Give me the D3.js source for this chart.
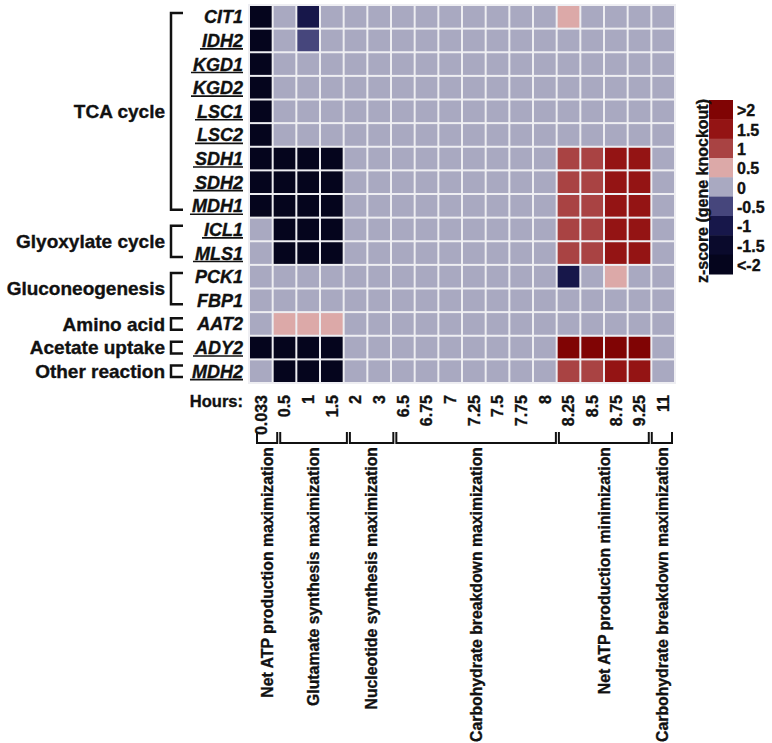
<!DOCTYPE html>
<html><head><meta charset="utf-8">
<script src="https://cdnjs.cloudflare.com/ajax/libs/d3/7.8.5/d3.min.js"></script>
<style>
html,body{margin:0;padding:0;background:#fff;}
svg{display:block;font-family:"Liberation Sans",Arial,sans-serif;}
svg text{stroke:#111;stroke-width:0.35px;}
</style></head>
<body>
<svg id="chart" width="772" height="743"></svg>
<script>
const hours = ["0.033","0.5","1","1.5","2","3","6.5","6.75","7","7.25","7.5","7.75","8","8.25","8.5","8.75","9.25","11"];
const genes = ["CIT1","IDH2","KGD1","KGD2","LSC1","LSC2","SDH1","SDH2","MDH1","ICL1","MLS1","PCK1","FBP1","AAT2","ADY2","MDH2"];
const underlined = ["IDH2","KGD1","KGD2","LSC1","LSC2","SDH1","SDH2","MDH1","ICL1","MLS1","ADY2","MDH2"];
// z-scores per gene, one value per hour
const zCIT1 = [-2.5,0,-1.1,0,0,0,0,0,0,0,0,0,0,0.5,0,0,0,0];
const zIDH2 = [-2.5,0,-0.6,0,0,0,0,0,0,0,0,0,0,0,0,0,0,0];
const zKGD1 = [-2.5,0,0,0,0,0,0,0,0,0,0,0,0,0,0,0,0,0];
const zKGD2 = [-2.5,0,0,0,0,0,0,0,0,0,0,0,0,0,0,0,0,0];
const zLSC1 = [-2.5,0,0,0,0,0,0,0,0,0,0,0,0,0,0,0,0,0];
const zLSC2 = [-2.5,0,0,0,0,0,0,0,0,0,0,0,0,0,0,0,0,0];
const zSDH1 = [-2.5,-2.5,-2.5,-2.5,0,0,0,0,0,0,0,0,0,1,1,1.5,1.5,0];
const zSDH2 = [-2.5,-2.5,-2.5,-2.5,0,0,0,0,0,0,0,0,0,1,1,1.5,1.5,0];
const zMDH1 = [-2.5,-2.5,-2.5,-2.5,0,0,0,0,0,0,0,0,0,1,1,1.5,1.5,0];
const zICL1 = [0,-2.5,-2.5,-2.5,0,0,0,0,0,0,0,0,0,1,1,1.5,1.5,0];
const zMLS1 = [0,-2.5,-2.5,-2.5,0,0,0,0,0,0,0,0,0,1,1,1.5,1.5,0];
const zPCK1 = [0,0,0,0,0,0,0,0,0,0,0,0,0,-1.1,0,0.5,0,0];
const zFBP1 = [0,0,0,0,0,0,0,0,0,0,0,0,0,0,0,0,0,0];
const zAAT2 = [0,0.5,0.5,0.5,0,0,0,0,0,0,0,0,0,0,0,0,0,0];
const zADY2 = [-2.5,-2.5,-2.5,-2.5,0,0,0,0,0,0,0,0,0,2.3,2.3,2.3,2.3,0];
const zMDH2 = [0,-2.5,-2.5,-2.5,0,0,0,0,0,0,0,0,0,1,1,1.5,1.5,0];
const zRows = [zCIT1,zIDH2,zKGD1,zKGD2,zLSC1,zLSC2,zSDH1,zSDH2,zMDH1,zICL1,zMLS1,zPCK1,zFBP1,zAAT2,zADY2,zMDH2];

const pathwayNames = ["TCA cycle","Glyoxylate cycle","Gluconeogenesis","Amino acid","Acetate uptake","Other reaction"];
const pathwayFirst = ["CIT1","ICL1","PCK1","AAT2","ADY2","MDH2"];
const pathwayLast  = ["MDH1","MLS1","FBP1","AAT2","ADY2","MDH2"];

const objectiveNames = ["Net ATP production maximization","Glutamate synthesis maximization","Nucleotide synthesis maximization","Carbohydrate breakdown maximization","Net ATP production minimization","Carbohydrate breakdown maximization"];
const objectiveFirst = ["0.033","0.5","2","6.5","8.25","11"];
const objectiveLast  = ["0.033","1.5","3","8","9.25","11"];

const legendLabels = [">2","1.5","1","0.5","0","-0.5","-1","-1.5","<-2"];
const legendValues = [2.3,1.5,1,0.5,0,-0.5,-1,-1.5,-2.3];
const colorThresholds = [-1.75,-1.25,-0.75,-0.25,0.25,0.75,1.25,1.75];
const colorList = ["#05051d","#0a0a2c","#17174a","#46467c","#a9a9c1","#dca9a8","#a94343","#941414","#800404"];

const svg = d3.select("#chart");
const color = d3.scaleThreshold().domain(colorThresholds).range(colorList);

const x = d3.scaleBand().domain(hours).range([249,675]);
const y = d3.scaleBand().domain(genes).range([5,383]);
const xb = d3.scaleBand().domain(hours).range([257,675]);

// cells
const cells = [];
genes.forEach((g,i)=>hours.forEach((h,j)=>cells.push({g,h,v:zRows[i][j]})));
svg.append("rect").attr("x",248).attr("y",4).attr("width",428).attr("height",380).attr("fill","#eeeef2");
svg.append("g").selectAll("rect").data(cells).join("rect")
  .attr("x",d=>x(d.h)+1).attr("y",d=>y(d.g)+1)
  .attr("width",x.bandwidth()-2).attr("height",y.bandwidth()-2)
  .attr("fill",d=>color(d.v));

// gene labels
const gl = svg.append("g");
genes.forEach(g=>{
  const t = gl.append("text").attr("x",243).attr("y",y(g)+y.bandwidth()/2).attr("dy","0.36em")
    .attr("text-anchor","end").attr("font-size",18).attr("font-weight","bold").attr("font-style","italic")
    .attr("fill","#111").text(g);
  if(underlined.includes(g)){
    const len = t.node().getComputedTextLength();
    const by = y(g)+y.bandwidth()/2+0.36*18+2;
    gl.append("line").attr("x1",243-len-2).attr("x2",243).attr("y1",by).attr("y2",by)
      .attr("stroke","#111").attr("stroke-width",1.6);
  }
});

// pathway brackets
const pg = svg.append("g");
pathwayNames.forEach((name,i)=>{
  const single = pathwayFirst[i]===pathwayLast[i];
  const inset = single ? 6 : 8;
  const y0 = y(pathwayFirst[i])+inset, y1 = y(pathwayLast[i])+y.bandwidth()-inset;
  pg.append("path").attr("d",`M183,${y0}H171V${y1}H183`).attr("fill","none").attr("stroke","#111").attr("stroke-width",2.5);
  pg.append("text").attr("x",165).attr("y",(y(pathwayFirst[i])+y(pathwayLast[i])+y.bandwidth())/2).attr("dy","0.36em")
    .attr("text-anchor","end").attr("font-size",19).attr("font-weight","bold").attr("fill","#111").text(name);
});

// Hours label + tick labels
svg.append("text").attr("x",243).attr("y",401).attr("dy","0.36em").attr("text-anchor","end")
  .attr("font-size",16.5).attr("font-weight","bold").attr("fill","#111").text("Hours:");
svg.append("g").selectAll("text").data(hours).join("text")
  .attr("transform",d=>`translate(${x(d)+x.bandwidth()/2},395) rotate(-90)`)
  .attr("dy","0.36em").attr("text-anchor","end").attr("font-size",16).attr("font-weight","bold").attr("fill","#111")
  .text(d=>d);

// objective brackets + labels
const og = svg.append("g");
objectiveNames.forEach((name,i)=>{
  const x0 = xb(objectiveFirst[i]), x1 = xb(objectiveLast[i])+xb.bandwidth()-3;
  og.append("path").attr("d",`M${x0},432V443H${x1}V432`).attr("fill","none").attr("stroke","#111").attr("stroke-width",2);
  og.append("text").attr("transform",`translate(${(x0+x1)/2},447) rotate(-90)`)
    .attr("dy","0.36em").attr("text-anchor","end").attr("font-size",15.8).attr("font-weight","bold").attr("fill","#111")
    .text(name);
});

// legend
const ly = d3.scaleBand().domain(legendLabels).range([100,274]);
const lg = svg.append("g");
lg.selectAll("rect").data(legendLabels).join("rect")
  .attr("x",709).attr("y",d=>ly(d)).attr("width",24).attr("height",ly.bandwidth()+0.5)
  .attr("fill",(d,i)=>color(legendValues[i]));
lg.selectAll("text").data(legendLabels).join("text")
  .attr("x",737).attr("y",d=>ly(d)+ly.bandwidth()/2+1).attr("dy","0.36em")
  .attr("font-size",16).attr("font-weight","bold").attr("fill","#111").text(d=>d);
svg.append("text").attr("transform","translate(702,191) rotate(-90)").attr("dy","0.36em")
  .attr("text-anchor","middle").attr("font-size",16).attr("font-weight","bold").attr("fill","#111")
  .text("z-score (gene knockout)");
</script>
</body></html>
